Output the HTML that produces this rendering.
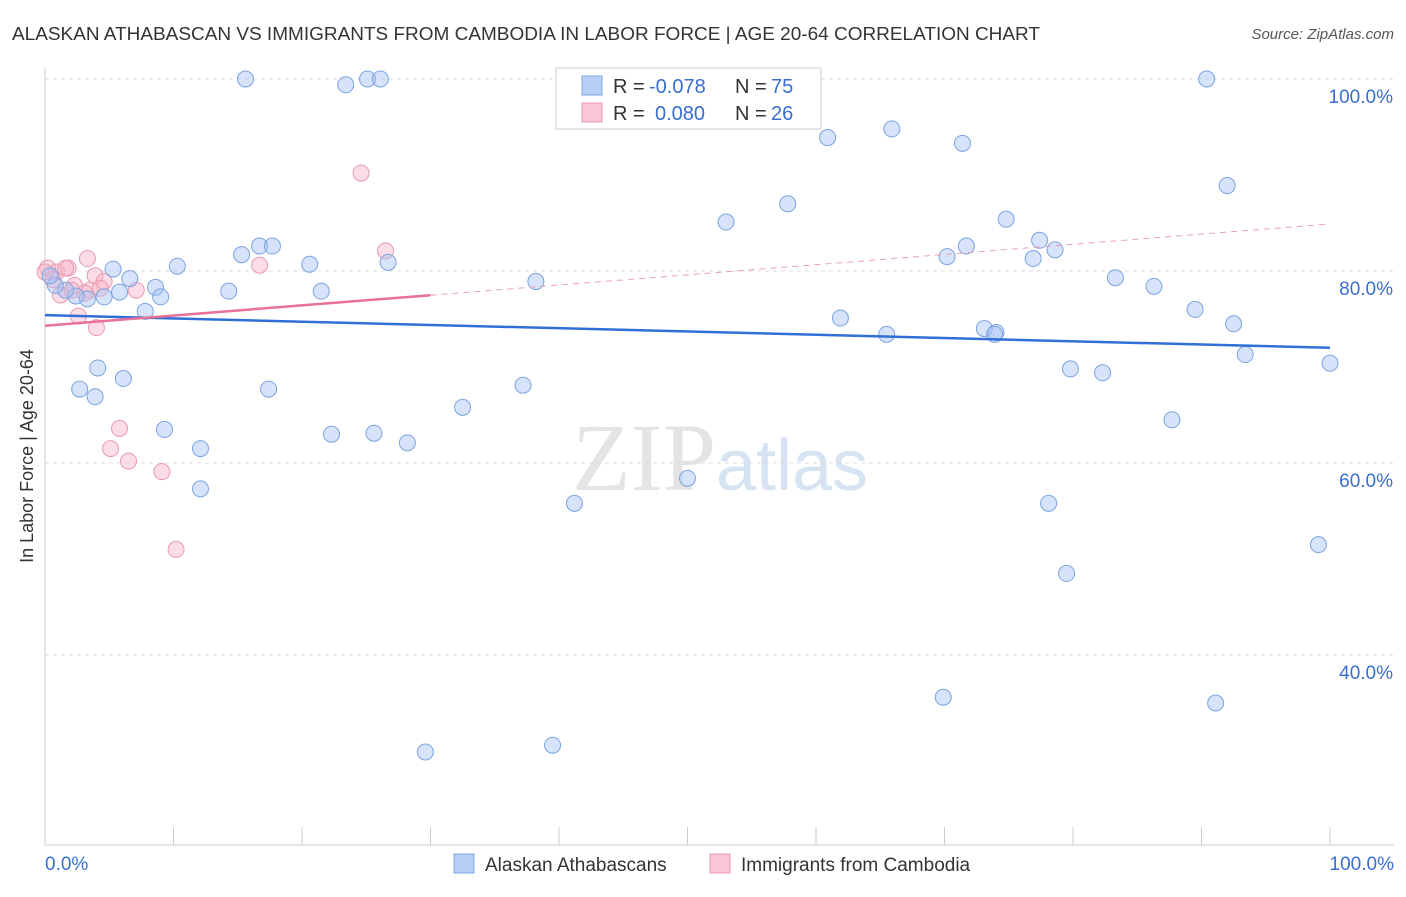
<!DOCTYPE html>
<html><head><meta charset="utf-8">
<style>
body{margin:0;background:#fff;font-family:"Liberation Sans",sans-serif;}
svg text{font-family:"Liberation Sans",sans-serif;}
</style></head>
<body>
<svg id="chart" width="1406" height="892" viewBox="0 0 1406 892" xmlns="http://www.w3.org/2000/svg">
<text x="12" y="40" font-size="18" fill="#333" textLength="1028" lengthAdjust="spacingAndGlyphs">ALASKAN ATHABASCAN VS IMMIGRANTS FROM CAMBODIA IN LABOR FORCE | AGE 20-64 CORRELATION CHART</text>
<text x="1394" y="39" font-size="15" fill="#555" text-anchor="end" font-style="italic">Source: ZipAtlas.com</text>
<text x="720" y="490" font-size="96" text-anchor="middle" fill="#e4e4e4" font-family="Liberation Serif"><tspan font-family="Liberation Serif">ZIP</tspan><tspan fill="#d6e3f3" font-family="Liberation Sans" font-size="72">atlas</tspan></text>
<text transform="translate(33,456) rotate(-90)" font-size="18" fill="#333" text-anchor="middle">In Labor Force | Age 20-64</text>
<g id="grid"></g><g id="axes"></g><g id="marks"></g>
<g>
<rect x="556" y="68" width="265" height="61" fill="#fff" stroke="#ccc"/>
<rect x="582" y="76" width="20" height="19" fill="#b8d0f4" stroke="#7ba3e0"/>
<rect x="582" y="103" width="20" height="19" fill="#fac6d6" stroke="#e89ab0"/>
<text x="613" y="93" font-size="20" fill="#333">R =</text>
<text x="649" y="93" font-size="20" fill="#3a6fd0">-0.078</text>
<text x="735" y="93" font-size="20" fill="#333">N =</text>
<text x="771" y="93" font-size="20" fill="#3a6fd0">75</text>
<text x="613" y="120" font-size="20" fill="#333">R =</text>
<text x="655" y="120" font-size="20" fill="#3a6fd0">0.080</text>
<text x="735" y="120" font-size="20" fill="#333">N =</text>
<text x="771" y="120" font-size="20" fill="#3a6fd0">26</text>
</g>
<g>
<rect x="454" y="854" width="20" height="19" fill="#b8d0f4" stroke="#7ba3e0"/>
<text x="485" y="871" font-size="19" fill="#333">Alaskan Athabascans</text>
<rect x="710" y="854" width="20" height="19" fill="#fac6d6" stroke="#e89ab0"/>
<text x="741" y="871" font-size="19" fill="#333">Immigrants from Cambodia</text>
</g>
</svg>
<script>
const blueX=[15.6,23.4,25.1,26.1,90.4,60.9,65.9,71.4,92.0,57.8,53.0,74.8,15.3,16.7,17.7,20.6,26.7,10.3,5.3,38.2,6.6,8.6,9.0,14.3,21.5,5.8,4.6,3.3,2.4,1.6,0.8,0.4,7.8,70.2,71.7,77.4,78.6,76.9,83.3,86.3,89.5,92.5,61.9,65.5,73.1,74.0,73.9,93.4,100,79.8,82.3,4.1,6.1,2.7,3.9,17.4,37.2,32.5,87.7,9.3,22.3,25.6,28.2,12.1,50.0,12.1,41.2,78.1,99.1,79.5,69.9,91.1,29.6,39.5];
const blueY=[100,99.4,100,100,100,93.9,94.8,93.3,88.9,87.0,85.1,85.4,81.7,82.6,82.6,80.7,80.9,80.5,80.2,78.9,79.2,78.3,77.3,77.9,77.9,77.8,77.3,77.1,77.4,78.0,78.5,79.5,75.8,81.5,82.6,83.2,82.2,81.3,79.3,78.4,76.0,74.5,75.1,73.4,74.0,73.6,73.4,71.3,70.4,69.8,69.4,69.9,68.8,67.7,66.9,67.7,68.1,65.8,64.5,63.5,63.0,63.1,62.1,61.5,58.4,57.3,55.8,55.8,51.5,48.5,35.6,35.0,29.9,30.6];
const pinkX=[0.2,0.9,1.8,3.3,3.9,4.6,2.3,1.2,3.5,7.1,2.6,4.0,24.6,26.5,16.7,5.8,5.1,6.5,9.1,10.2,1.6,0.6,4.3,2.1,3.1,0];
const pinkY=[80.3,79.9,80.3,81.3,79.5,78.9,78.5,77.5,78.0,78.0,75.3,74.1,90.2,82.1,80.6,63.6,61.5,60.2,59.1,51.0,80.3,79.1,78.2,78.0,77.7,79.9];
const blueTrend=[75.4,72.0];
const pinkTrend=[74.3,84.9];
const pinkSolidEnd=30;
const yTicks=[100,80,60,40];
const xTicks=[0,10,20,30,40,50,60,70,80,90,100];
const X=v=>45+v*12.85, Y=v=>79+(100-v)*9.6;
const NS='http://www.w3.org/2000/svg';
function mk(tag,attrs,parent){const e=document.createElementNS(NS,tag);for(const k in attrs)e.setAttribute(k,attrs[k]);parent.appendChild(e);return e;}
const grid=document.getElementById('grid'),axes=document.getElementById('axes'),marks=document.getElementById('marks');
yTicks.forEach(t=>{
 const l=mk('line',{x1:45,x2:1394,y1:Y(t),y2:Y(t),stroke:'#ddd','stroke-dasharray':'4,4'},grid);
 
 
 const tx=mk('text',{x:1393,y:Y(t)+24,'font-size':19,fill:'#3a6fd0','text-anchor':'end'},grid);
 tx.textContent=t.toFixed(1)+'%';
 
 
});
mk('line',{x1:45,x2:45,y1:68,y2:845,stroke:'#ccc'},axes);
mk('line',{x1:45,x2:1394,y1:845,y2:845,stroke:'#ccc'},axes);
xTicks.forEach(t=>{
 const l=mk('line',{x1:X(t),x2:X(t),y1:827,y2:845,stroke:'#ccc'},axes);
 
 
});
const x0=mk('text',{x:45,y:870,'font-size':19,fill:'#3a6fd0'},axes);x0.textContent='0.0%';


const x1=mk('text',{x:1394,y:870,'font-size':19,fill:'#3a6fd0','text-anchor':'end'},axes);x1.textContent='100.0%';


pinkX.forEach((v,i)=>{
 const c=mk('circle',{cx:X(v),cy:Y(pinkY[i]),r:8,fill:'rgba(248,180,200,0.45)',stroke:'#e89ab0','stroke-width':1},marks);
 
 
});
blueX.forEach((v,i)=>{
 const c=mk('circle',{cx:X(v),cy:Y(blueY[i]),r:8,fill:'rgba(164,194,244,0.45)',stroke:'#7ba3e0','stroke-width':1},marks);
 
 
});
const pAt=x=>pinkTrend[0]+(pinkTrend[1]-pinkTrend[0])*x/100;
const bt=mk('line',{x1:X(0),y1:Y(blueTrend[0]),x2:X(100),y2:Y(blueTrend[1]),stroke:'#2f6fd6','stroke-width':2.5},marks);


const ps=mk('line',{x1:X(0),y1:Y(pAt(0)),x2:X(pinkSolidEnd),y2:Y(pAt(pinkSolidEnd)),stroke:'#e8709a','stroke-width':2.5},marks);


const pd=mk('line',{x1:X(pinkSolidEnd),y1:Y(pAt(pinkSolidEnd)),x2:X(100),y2:Y(pAt(100)),stroke:'#e8a0b8','stroke-width':1,'stroke-dasharray':'6,5'},marks);


</script>
</body></html>
